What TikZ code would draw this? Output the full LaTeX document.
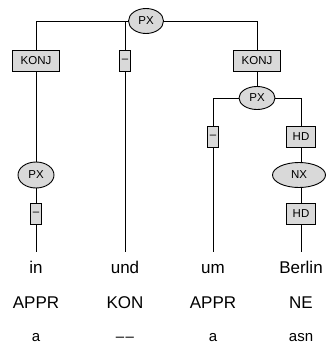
\documentclass[tikz,border=0pt]{standalone}
\usepackage{fontspec}
\setmainfont{Liberation Sans}
\usetikzlibrary{shapes.geometric}
\definecolor{boxfill}{HTML}{D9D9D9}
\begin{document}
\begin{tikzpicture}[x=1pt,y=1pt,
  edge/.style={draw=black,line width=0.9pt},
  lbox/.style={draw=black,line width=0.9pt,fill=boxfill,rectangle,inner sep=0pt,minimum height=21pt,font=\fontsize{11.5}{13}\selectfont},
  cat/.style={draw=black,line width=0.9pt,fill=boxfill,ellipse,inner sep=0pt,minimum height=25pt,font=\fontsize{11.5}{13}\selectfont},
  word/.style={anchor=base,inner xsep=0pt,inner ysep=8.5pt,text height=12.5pt,text depth=3.5pt,font=\fontsize{17}{20}\selectfont},
  postag/.style={anchor=base,inner sep=0pt,font=\fontsize{17}{20}\selectfont},
  morph/.style={anchor=base,inner sep=0pt,font=\fontsize{15}{18}\selectfont}]
\useasboundingbox (0,0) rectangle (326,-345);
% words
\node[word] (w1) at (36,-273) {in};
\node[word] (w2) at (125,-273) {und};
\node[word] (w3) at (213,-273) {um};
\node[word] (w4) at (301,-273) {Berlin};
\node[postag] (p1) at (36,-308) {APPR};
\node[postag] (p2) at (125,-308) {KON};
\node[postag] (p3) at (213,-308) {APPR};
\node[postag] (p4) at (301,-308) {NE};
\node[morph] (m1) at (36,-341) {a};
\node[morph] (m2) at (125,-341) {–\kern1.5pt–};
\node[morph] (m3) at (213,-341) {a};
\node[morph] (m4) at (301,-341) {asn};
% structure
\node[cat,minimum width=35pt] (top) at (146,-21) {PX};
\node[lbox,minimum width=47pt] (konjL) at (36,-60.5) {KONJ};
\node[lbox,minimum width=11pt] (dU) at (125,-60.5) {–};
\node[lbox,minimum width=47pt] (konjR) at (257,-60.5) {KONJ};
\node[cat,minimum width=36pt,minimum height=23pt] (pxR) at (257,-98) {PX};
\node[cat,minimum width=36pt,minimum height=26pt] (pxL) at (36,-175) {PX};
\node[lbox,minimum width=11pt] (dL) at (36,-213.5) {–};
\node[lbox,minimum width=11pt] (dM) at (213,-137) {–};
\node[lbox,minimum width=29pt] (hd1) at (301,-137) {HD};
\node[cat,minimum width=53pt] (nx) at (299,-175) {NX};
\node[lbox,minimum width=29pt] (hd2) at (301,-213.5) {HD};
% edges
\draw[edge] (top.west) -| (konjL.north);
\draw[edge] (top.west) -| (dU.north);
\draw[edge] (top.east) -| (konjR.north);
\draw[edge] (konjL.south) -- (pxL.north);
\draw[edge] (pxL.south) -- (dL.north);
\draw[edge] (dL.south) -- (w1.north);
\draw[edge] (dU.south) -- (w2.north);
\draw[edge] (konjR.south) -- (pxR.north);
\draw[edge] (pxR.west) -| (dM.north);
\draw[edge] (pxR.east) -| (hd1.north);
\draw[edge] (dM.south) -- (w3.north);
\draw[edge] (hd1.south) -- (hd1.south |- nx.north);
\draw[edge] (hd1.south |- nx.south) -- (hd2.north);
\draw[edge] (hd2.south) -- (w4.north);
\end{tikzpicture}
\end{document}
